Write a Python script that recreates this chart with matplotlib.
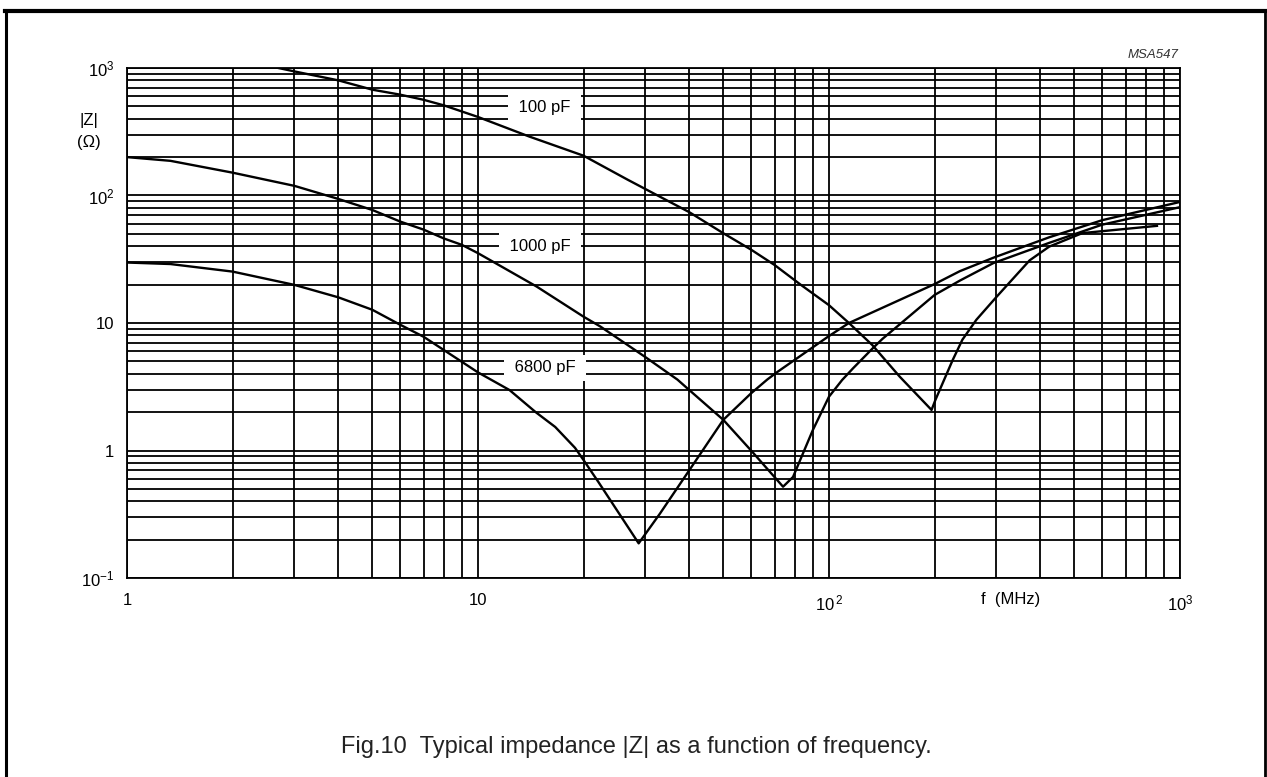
import matplotlib
matplotlib.use("Agg")
import matplotlib.pyplot as plt
from matplotlib.lines import Line2D
from matplotlib.ticker import FixedLocator, NullFormatter

plt.rcParams['font.family'] = ['Liberation Sans', 'DejaVu Sans']
plt.rcParams['mathtext.default'] = 'regular'

# --- data (f in MHz, |Z| in ohm) ---
f_100 = [2.7, 3, 4, 5, 6, 7, 8, 10, 14, 20, 26.7, 40, 50, 60, 70, 83, 100, 114, 133, 159,
         196, 201, 225, 240, 263, 300, 373, 424, 527, 860]
z_100 = [1000, 940, 800, 676, 618, 563, 509, 413, 290, 205, 133, 74, 50.6, 37.6, 28.5, 20, 13.8, 10, 6.7, 3.8,
         2.08, 2.49, 5.1, 7.4, 10.6, 16, 31, 39.7, 50.7, 57.8]

f_1000 = [1, 1.33, 2, 3, 4, 5, 6, 7, 8, 9, 10, 14.7, 20, 22.3, 30, 37, 40, 50, 60, 74,
          79, 90, 100, 109, 117, 133, 142, 200, 236, 294, 424, 600, 1000]
z_1000 = [200, 187, 151, 119, 94, 77, 62.5, 54, 46, 41, 35.3, 19.3, 11.2, 9.4, 5.4, 3.6, 2.98, 1.74, 1.0, 0.52,
          0.62, 1.45, 2.64, 3.57, 4.4, 6.3, 7.5, 16.6, 21.5, 29.5, 42.5, 59, 81]

f_6800 = [1, 1.33, 2, 3, 4, 5, 6, 7, 10, 12.3, 14.6, 16.6, 18.9, 20, 22, 23.8, 28.7,
          33, 40, 50, 60, 66.7, 71, 100, 114, 200, 236, 294, 424, 600, 1000]
z_6800 = [29.8, 29, 25.3, 19.9, 15.9, 12.7, 9.7, 7.8, 4.1, 2.98, 2.0, 1.53, 1.05, 0.84, 0.57, 0.41, 0.187,
          0.32, 0.70, 1.74, 2.81, 3.6, 4.1, 7.9, 10.0, 20.2, 25.5, 32.5, 47, 64, 89]

curve_labels = ["100 pF", "1000 pF", "6800 pF"]
label_pos = [(15.5, 488), (15.0, 39.6), (15.5, 4.44)]

x_ticks = [1, 10, 100, 1000]
x_ticklabels = ["1", "10", "$10^{\\,2}$", "$10^{3}$"]
y_ticks = [0.1, 1, 10, 100, 1000]
y_ticklabels = ["$10^{-1}$", "1", "10", "$10^{2}$", "$10^{3}$"]

INK = "black"

fig = plt.figure(figsize=(12.67, 7.77), dpi=100)
ax = fig.add_axes([0.1002, 0.2561, 0.8311, 0.6564])
ax.set_xscale("log"); ax.set_yscale("log")
ax.set_xlim(1, 1000); ax.set_ylim(0.1, 1000)

minors = [m * 10**e for e in range(-1, 3) for m in range(2, 10)]
ax.xaxis.set_minor_locator(FixedLocator([v for v in minors if 1 < v < 1000]))
ax.yaxis.set_minor_locator(FixedLocator(minors))
ax.xaxis.set_minor_formatter(NullFormatter()); ax.yaxis.set_minor_formatter(NullFormatter())
ax.set_xticks(x_ticks); ax.set_xticklabels(x_ticklabels)
ax.set_yticks(y_ticks); ax.set_yticklabels(y_ticklabels)
ax.tick_params(which="both", length=0)
ax.tick_params(axis="x", pad=11, labelsize=12)
ax.tick_params(axis="y", pad=9, labelsize=12)
ax.grid(True, which="both", color=INK, lw=1.3)
for s in ax.spines.values():
    s.set_linewidth(1.3)

for f, z in ((f_100, z_100), (f_1000, z_1000), (f_6800, z_6800)):
    ax.plot(f, z, color=INK, lw=1.7, zorder=3, clip_on=True)

for lbl, (xl, yl) in zip(curve_labels, label_pos):
    ax.text(xl, yl, " " + lbl + " ", ha="center", va="center", fontsize=12, zorder=4,
            bbox=dict(boxstyle="square,pad=0.35", fc="white", ec="none"))

ax.text(0.8395, -0.043, "f  (MHz)", transform=ax.transAxes, ha="center", va="center", fontsize=12)
ax.text(-0.036, 0.898, "|Z|", transform=ax.transAxes, ha="center", va="center", fontsize=12)
ax.text(-0.036, 0.853, "(\u03a9)", transform=ax.transAxes, ha="center", va="center", fontsize=12)

fig.text(0.9305, 0.929, "MSA547", ha="right", va="center", fontsize=9.5, style="italic",
         color="#333")
fig.text(0.502, 0.0386, "Fig.10  Typical impedance |Z| as a function of frequency.",
         ha="center", va="center", fontsize=17, color="#222")

# frame around the figure
fig.add_artist(Line2D([0.004, 1.0], [0.9858, 0.9858], color=INK, lw=3, transform=fig.transFigure))
fig.add_artist(Line2D([0.0051, 0.0051], [0.0, 0.9858], color=INK, lw=2.2, transform=fig.transFigure))
fig.add_artist(Line2D([0.9984, 0.9984], [0.0, 0.9858], color=INK, lw=2, transform=fig.transFigure))

fig.savefig("out.png", dpi=100)
